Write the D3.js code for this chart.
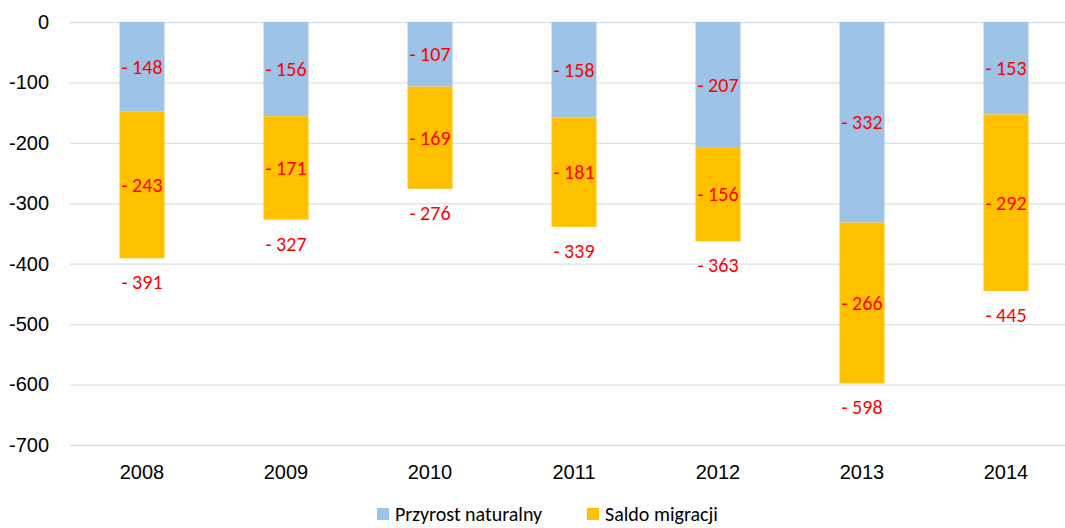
<!DOCTYPE html>
<html>
<head>
<meta charset="utf-8">
<script src="https://cdn.jsdelivr.net/npm/d3@7"></script>
<style>
  body { margin: 0; background: #fff; }
  svg { display: block; font-family: Carlito, Lato, "Open Sans", sans-serif; }
</style>
</head>
<body>
<div id="chart"></div>
<script>
var years = ["2008", "2009", "2010", "2011", "2012", "2013", "2014"];
var naturalGrowth = [-148, -156, -107, -158, -207, -332, -153];
var migrationBalance = [-243, -171, -169, -181, -156, -266, -292];
var seriesNames = ["Przyrost naturalny", "Saldo migracji"];
var seriesColors = ["#9dc3e6", "#ffc000"];
var yTicks = [0, -100, -200, -300, -400, -500, -600, -700];

var svgWidth = 1065;
var svgHeight = 528;
var margin = { top: 22, right: -13, bottom: 83, left: 70 };
var width = svgWidth - margin.left - margin.right;
var height = svgHeight - margin.top - margin.bottom;
var fontSize = 20;

var svg = d3.select("#chart").append("svg")
  .attr("width", svgWidth)
  .attr("height", svgHeight);

var chartGroup = svg.append("g")
  .attr("transform", `translate(${margin.left}, ${margin.top})`);

// build rows for the stack
var rows = years.map(function(y, i) {
  return { year: y, natural: naturalGrowth[i], migration: migrationBalance[i] };
});
var stack = d3.stack()
  .keys(["natural", "migration"])
  .offset(d3.stackOffsetDiverging);
var layers = stack(rows);

var x = d3.scaleBand()
  .domain(years)
  .range([0, width])
  .paddingInner(0.6875)
  .paddingOuter(0.34375);

var y = d3.scaleLinear()
  .domain([0, -700])
  .range([0, height]);

// gridlines
chartGroup.append("g")
  .call(d3.axisLeft(y).tickValues(yTicks).tickSize(-width).tickFormat(""))
  .call(g => g.select(".domain").remove())
  .call(g => g.selectAll("line").attr("stroke", "#d9dfe6").attr("stroke-width", 1.3));

// y labels
chartGroup.append("g")
  .attr("transform", "translate(-21,0)")
  .call(d3.axisLeft(y).tickValues(yTicks).tickSize(0).tickPadding(0).tickFormat(d => String(d)))
  .call(g => g.select(".domain").remove())
  .call(g => g.selectAll("text").attr("font-size", fontSize).attr("fill", "#000").style("font-family", null));

// x labels
chartGroup.append("g")
  .attr("transform", `translate(0, ${height})`)
  .call(d3.axisBottom(x).tickSize(0).tickPadding(20))
  .call(g => g.select(".domain").remove())
  .call(g => g.selectAll("text").attr("font-size", fontSize).attr("fill", "#000").style("font-family", null));

// bars (negative stack: d[1] is the top, d[0] the bottom)
var layerGroups = chartGroup.selectAll(".layer")
  .data(layers)
  .enter().append("g")
  .attr("class", "layer")
  .attr("fill", (d, i) => seriesColors[i]);

layerGroups.selectAll("rect")
  .data(d => d)
  .enter().append("rect")
  .attr("x", d => x(d.data.year))
  .attr("y", d => y(d[1]))
  .attr("width", x.bandwidth())
  .attr("height", d => y(d[0]) - y(d[1]));

function fmt(v) { return "- " + Math.abs(v); }

// segment labels
layerGroups.selectAll("text")
  .data(d => d)
  .enter().append("text")
  .attr("x", d => x(d.data.year) + x.bandwidth() / 2)
  .attr("y", d => y((d[0] + d[1]) / 2))
  .attr("dy", "0.35em")
  .attr("text-anchor", "middle")
  .attr("font-size", fontSize)
  .attr("fill", "#ff0000")
  .text(d => fmt(d[1] - d[0]));

// total labels under each bar
chartGroup.selectAll(".total")
  .data(rows)
  .enter().append("text")
  .attr("class", "total")
  .attr("x", d => x(d.year) + x.bandwidth() / 2)
  .attr("y", d => y(d.natural + d.migration) + 24)
  .attr("dy", "0.35em")
  .attr("text-anchor", "middle")
  .attr("font-size", fontSize)
  .attr("fill", "#ff0000")
  .text(d => fmt(d.natural + d.migration));

// legend
var legendX = [377, 587];
var legend = svg.selectAll(".legend")
  .data(seriesNames)
  .enter().append("g")
  .attr("class", "legend")
  .attr("transform", (d, i) => `translate(${legendX[i]}, 508)`);

legend.append("rect")
  .attr("width", 12)
  .attr("height", 12)
  .attr("fill", (d, i) => seriesColors[i]);

legend.append("text")
  .attr("x", 18)
  .attr("y", 6)
  .attr("dy", "0.35em")
  .attr("font-size", fontSize)
  .attr("fill", "#000")
  .text(d => d);
</script>
</body>
</html>
